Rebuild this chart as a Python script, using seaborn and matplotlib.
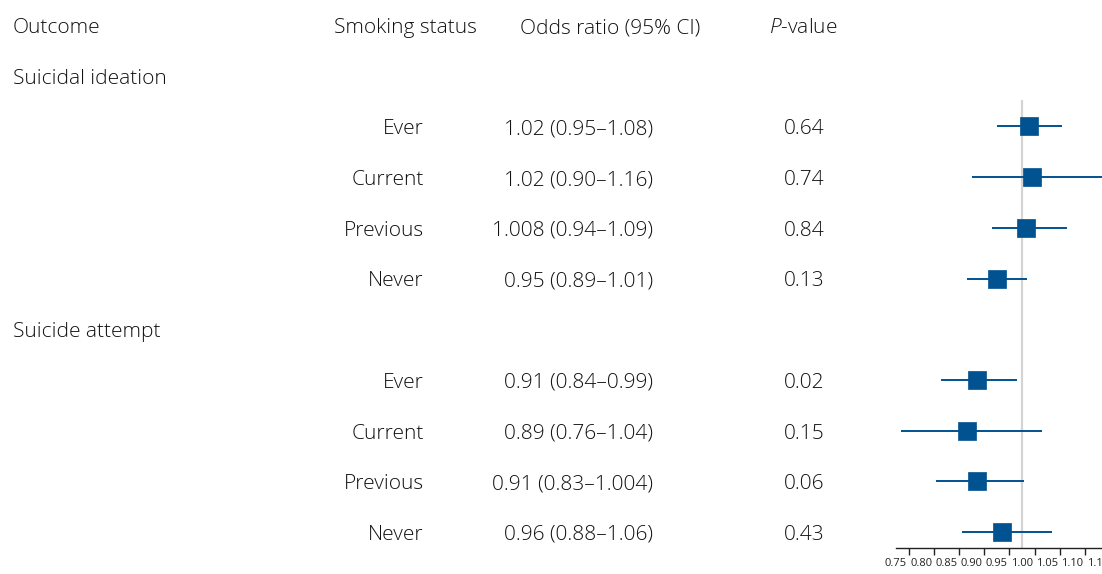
import matplotlib.pyplot as plt
import numpy as np
import pandas as pd
import seaborn as sns

sns.set_style("white")
plt.rcParams["font.family"] = ["Open Sans", "DejaVu Sans"]
plt.rcParams["mathtext.fontset"] = "custom"
plt.rcParams["mathtext.rm"] = "Open Sans:light"
plt.rcParams["mathtext.it"] = "Open Sans:italic:light"

# data
outcomes = ["Suicidal ideation", "Suicide attempt"]
statuses = ["Ever", "Current", "Previous", "Never"]
odds = [1.013, 1.02, 1.008, 0.95, 0.91, 0.89, 0.91, 0.96]
ci_low = [0.95, 0.90, 0.94, 0.89, 0.84, 0.76, 0.83, 0.88]
ci_high = [1.08, 1.16, 1.09, 1.01, 0.99, 1.04, 1.004, 1.06]
or_labels = ["1.02 (0.95\u20131.08)", "1.02 (0.90\u20131.16)", "1.008 (0.94\u20131.09)",
             "0.95 (0.89\u20131.01)", "0.91 (0.84\u20130.99)", "0.89 (0.76\u20131.04)",
             "0.91 (0.83\u20131.004)", "0.96 (0.88\u20131.06)"]
p_labels = ["0.64", "0.74", "0.84", "0.13", "0.02", "0.15", "0.06", "0.43"]
headers = ["Outcome", "Smoking status", "Odds ratio (95% CI)", "$\\mathit{P}$-value"]

# row index for each line of the table (0 = header)
rows = []
for g in range(len(outcomes)):
    rows += [2 + g * 5 + i for i in range(len(statuses))]
df = pd.DataFrame({
    "row": rows,
    "status": statuses * len(outcomes),
    "odds": odds, "low": ci_low, "high": ci_high,
    "or_label": or_labels, "p": p_labels,
})

W, H = 1102, 574
row_px = 50.7
top_px = 25


def px_to_row(y):
    return (y - top_px) / row_px


fig = plt.figure(figsize=(W / 100, H / 100), dpi=100)
tab = fig.add_axes([0, 0, 1, 1])
tab.set_xlim(0, W)
tab.set_ylim(px_to_row(H), px_to_row(0))
tab.axis("off")

fs = 15
tc = "#111111"
kw = dict(va="center", fontsize=fs, color=tc, fontweight="light")
dy = 3 / row_px
tab.text(13, dy, headers[0], ha="left", **kw)
tab.text(405, dy, headers[1], ha="center", **kw)
tab.text(610, dy, headers[2], ha="center", **kw)
tab.text(803, dy, headers[3], ha="center", **kw)
for g, name in enumerate(outcomes):
    tab.text(13, 1 + g * 5 + dy, name, ha="left", **kw)
for _, r in df.iterrows():
    tab.text(424, r["row"] + dy, r["status"], ha="right", **kw)
    tab.text(653, r["row"] + dy, r["or_label"], ha="right", **kw)
    tab.text(804, r["row"] + dy, r["p"], ha="center", **kw)

# forest panel
x0_px, axis_px, ref_top_px = 896, 548, 100
ax = fig.add_axes([x0_px / W, (H - axis_px) / H, (W - x0_px) / W, (axis_px - ref_top_px) / H])
ax.patch.set_alpha(0)
ax.set_ylim(px_to_row(axis_px), px_to_row(ref_top_px))
ax.set_xlim(0.75, 0.75 + (W - x0_px) / 12.6 * 0.025)
blue = "#005291"
ax.axvline(1.0, color="#d4d4d4", lw=1.6, zorder=0)
ax.hlines(df["row"], df["low"], df["high"], color=blue, lw=1.4, zorder=2)
sns.scatterplot(data=df, x="odds", y="row", marker="s", s=170, color=blue,
                edgecolor=blue, linewidth=0.5, ax=ax, zorder=3, legend=False)
ax.set_xlabel("")
ax.set_ylabel("")
ax.set_yticks([])
for s in ["top", "right", "left"]:
    ax.spines[s].set_visible(False)
ax.spines["bottom"].set_color("#222222")
ax.spines["bottom"].set_linewidth(1.0)
ax.set_xticks(np.arange(0.75, 1.151, 0.05))
ax.set_xticks(np.arange(0.775, 1.16, 0.05), minor=True)
ax.set_xticklabels([f"{v:.2f}" for v in np.arange(0.75, 1.151, 0.05)])
ax.tick_params(axis="x", which="both", direction="out", length=5, width=1.0,
               color="#222222", labelsize=8, pad=2.5, labelcolor="#222222")
ax.tick_params(axis="x", which="minor", bottom=True)

fig.savefig("out.png", dpi=100)
